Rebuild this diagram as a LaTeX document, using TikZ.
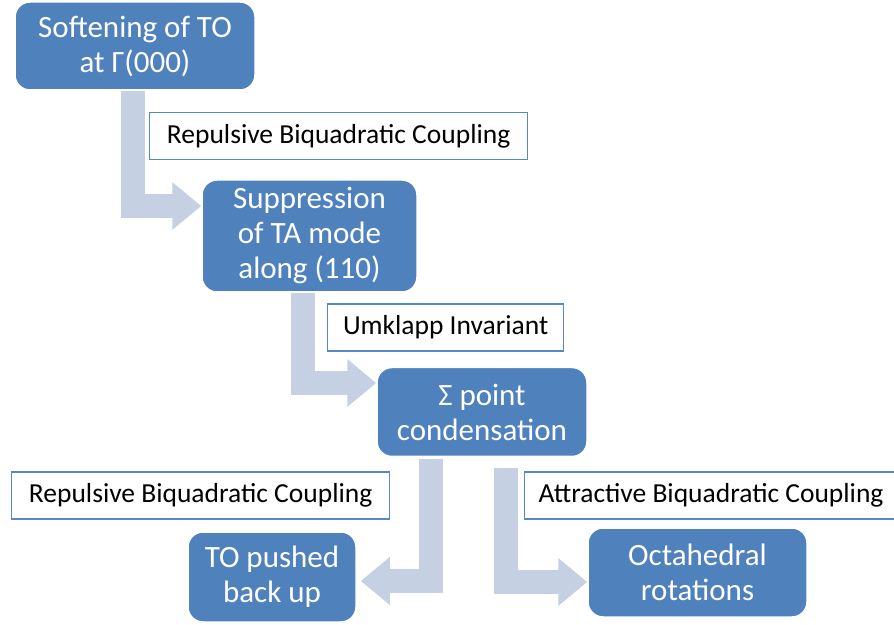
\documentclass[tikz,border=0pt]{standalone}
\usepackage{fontspec}
\setmainfont{Carlito}
\usetikzlibrary{arrows.meta,calc}
\definecolor{stageblue}{RGB}{79,129,189}
\definecolor{labelborder}{RGB}{84,136,201}
\definecolor{flowfill}{RGB}{197,208,227}
\definecolor{ink}{RGB}{0,0,0}

\begin{document}
\begin{tikzpicture}[
  x=1pt,
  y=1pt,
  line join=miter,
  stage/.style={
    rounded corners=15pt,
    fill=stageblue,
    draw=white,
    line width=1.5pt,
    text=white,
    align=center,
    inner sep=0pt,
    font=\fontsize{31}{35}\selectfont
  },
  tag/.style={
    draw=labelborder,
    fill=white,
    line width=1.3pt,
    text=ink,
    anchor=west,
    inner xsep=14pt,
    inner ysep=0pt,
    minimum height=47pt,
    font=\fontsize{27.5}{32}\selectfont
  },
  flow/.style={
    -{Triangle[length=29pt,width=46pt]},
    draw=flowfill,
    line width=24pt
  }
]
\useasboundingbox (0,0) rectangle (894,624);

% ---------------------------------------------------------------------------
% Stages of the transition.
% ---------------------------------------------------------------------------
\node[stage,minimum width=240pt,minimum height=88pt] (soft) at (135,578)
  {Softening of TO\\at Γ(000)};
\node[stage,minimum width=215pt,minimum height=112pt] (supp) at (309.5,388)
  {Suppression\\of TA mode\\along (110)};
\node[stage,minimum width=210pt,minimum height=89pt] (sigma) at (482,212)
  {Σ point\\condensation};
\node[stage,minimum width=168pt,minimum height=90pt] (pushed) at (272,47)
  {TO pushed\\back up};
\node[stage,minimum width=219pt,minimum height=89pt] (octa) at (697.5,51.5)
  {Octahedral\\rotations};

% Coupling labels.
\node[tag,minimum width=378pt] (repone) at (149,488)
  {Repulsive Biquadratic Coupling};
\node[tag,minimum width=236pt] (umklapp) at (327,296.5)
  {Umklapp Invariant};
\node[tag,minimum width=378pt] (reptwo) at (11,128.5)
  {Repulsive Biquadratic Coupling};
\node[tag] (attr) at (524,128.5)
  {Attractive Biquadratic Coupling\hspace{12pt}};

% ---------------------------------------------------------------------------
% Bent block arrows between the stages.
% ---------------------------------------------------------------------------
\draw[flow] ([xshift=-2.5pt]soft.south) |- ([yshift=30pt]supp.west);
\draw[flow] ([xshift=-6.5pt]supp.south) |- ([yshift=29pt]sigma.west);
\draw[flow] ([xshift=-51.5pt,yshift=-2pt]sigma.south)
  |- ([xshift=4pt,yshift=-4pt]pushed.east);
\draw[flow] ([xshift=24pt,yshift=-11pt]sigma.south)
  |- ([yshift=-9.5pt]octa.west);

\end{tikzpicture}
\end{document}
